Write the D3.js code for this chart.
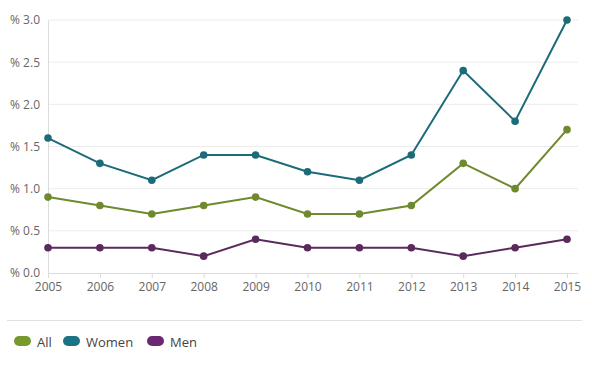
<!DOCTYPE html>
<html><head><meta charset="utf-8">
<script src="https://cdn.jsdelivr.net/npm/d3@7"></script>
<style>body{margin:0;background:#fff;font-family:"Open Sans",sans-serif;}</style>
</head><body><svg id="c" width="592" height="367"></svg>
<script>
const years = [2005,2006,2007,2008,2009,2010,2011,2012,2013,2014,2015];
const allVals = [0.9,0.8,0.7,0.8,0.9,0.7,0.7,0.8,1.3,1.0,1.7];
const womenVals = [1.6,1.3,1.1,1.4,1.4,1.2,1.1,1.4,2.4,1.8,3.0];
const menVals = [0.3,0.3,0.3,0.2,0.4,0.3,0.3,0.3,0.2,0.3,0.4];
const yTicks = [0,0.5,1.0,1.5,2.0,2.5,3.0];
const seriesNames = ["All","Women","Men"];
const lineColors = ["#6f8a2e","#1b6b78","#5a2a5c"];
const swatchColors = ["#76982c","#1b7384","#6b2872"];

const svg = d3.select("#c");
const x = d3.scaleLinear().domain([2005,2015]).range([48,567]);
const y = d3.scaleLinear().domain([0,3]).range([273,20]);

// gridlines
svg.append("g").selectAll("line").data(yTicks.slice(1)).join("line")
  .attr("x1",48).attr("x2",578).attr("y1",d=>y(d)).attr("y2",d=>y(d))
  .attr("stroke","#ececec").attr("stroke-width",1);

// y axis
const ya = svg.append("g").attr("transform","translate(48,0)")
  .call(d3.axisLeft(y).tickValues(yTicks).tickSize(0).tickPadding(8).tickFormat(d=>"% "+d3.format(".1f")(d)));
ya.select(".domain").attr("stroke","#dcdcdc");
ya.selectAll("text").attr("fill","#666").attr("font-size","12px").attr("font-family","Open Sans, sans-serif");

// x axis
const xa = svg.append("g").attr("transform","translate(0,273)")
  .call(d3.axisBottom(x).tickValues(years).tickFormat(d3.format("d")).tickSize(5).tickPadding(4));
xa.select(".domain").attr("stroke","#dcdcdc").attr("d","M48,0.5H578");
xa.selectAll("line").attr("stroke","#dcdcdc");
xa.selectAll("text").attr("fill","#666").attr("font-size","12px").attr("font-family","Open Sans, sans-serif");

const data = [allVals, womenVals, menVals];
const line = d3.line().x((d,i)=>x(years[i])).y(d=>y(d));
data.forEach((vals,k)=>{
  svg.append("path").datum(vals).attr("d",line).attr("fill","none")
    .attr("stroke",lineColors[k]).attr("stroke-width",2);
  svg.append("g").selectAll("circle").data(vals).join("circle")
    .attr("cx",(d,i)=>x(years[i])).attr("cy",d=>y(d)).attr("r",3.8)
    .attr("fill",lineColors[k]);
});

// legend separator
svg.append("line").attr("x1",7).attr("x2",582).attr("y1",320.5).attr("y2",320.5)
  .attr("stroke","#e0e0e0");

const legX = [14,63,147];
const lg = svg.append("g");
seriesNames.forEach((n,k)=>{
  lg.append("rect").attr("x",legX[k]).attr("y",336).attr("width",17).attr("height",10)
    .attr("rx",5).attr("fill",swatchColors[k]);
  lg.append("text").attr("x",legX[k]+23).attr("y",347).text(n)
    .attr("fill","#444").attr("font-size","13px").attr("font-family","Open Sans, sans-serif");
});
</script></body></html>
